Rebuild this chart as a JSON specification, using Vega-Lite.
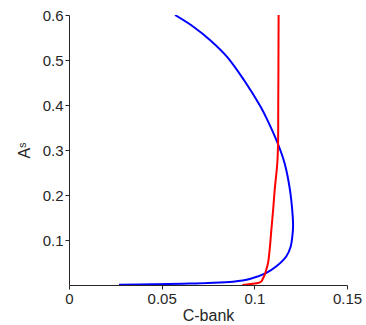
{
  "$schema": "https://vega.github.io/schema/vega-lite/v6.json",
  "width": 278,
  "height": 270,
  "autosize": "none",
  "padding": {"left": 69, "top": 15, "right": 19, "bottom": 40},
  "config": {
    "view": {"stroke": null},
    "axis": {
      "grid": false,
      "ticks": true,
      "domainColor": "#262626",
      "tickColor": "#262626",
      "tickOpacity": 1,
      "labelColor": "#262626",
      "titleColor": "#262626",
      "labelFont": "Liberation Sans",
      "titleFont": "Liberation Sans",
      "labelFontSize": 15,
      "titleFontSize": 16,
      "titleFontWeight": "normal",
      "tickSize": 4,
      "domainWidth": 1,
      "tickWidth": 1,
      "labelFlush": false,
      "labelOverlap": false
    }
  },
  "data": {"values": [
    {"s": "blue", "o": 0, "x": 0.027, "y": 0.0008},
    {"s": "blue", "o": 1, "x": 0.045, "y": 0.0015},
    {"s": "blue", "o": 2, "x": 0.0615, "y": 0.003},
    {"s": "blue", "o": 3, "x": 0.075, "y": 0.0045},
    {"s": "blue", "o": 4, "x": 0.0885, "y": 0.0074},
    {"s": "blue", "o": 5, "x": 0.0975, "y": 0.0133},
    {"s": "blue", "o": 6, "x": 0.1065, "y": 0.027},
    {"s": "blue", "o": 7, "x": 0.1119, "y": 0.0415},
    {"s": "blue", "o": 8, "x": 0.1173, "y": 0.064},
    {"s": "blue", "o": 9, "x": 0.1196, "y": 0.085},
    {"s": "blue", "o": 10, "x": 0.1205, "y": 0.108},
    {"s": "blue", "o": 11, "x": 0.1209, "y": 0.13},
    {"s": "blue", "o": 12, "x": 0.1207, "y": 0.153},
    {"s": "blue", "o": 13, "x": 0.1192, "y": 0.212},
    {"s": "blue", "o": 14, "x": 0.1163, "y": 0.271},
    {"s": "blue", "o": 15, "x": 0.1126, "y": 0.315},
    {"s": "blue", "o": 16, "x": 0.107, "y": 0.367},
    {"s": "blue", "o": 17, "x": 0.1034, "y": 0.396},
    {"s": "blue", "o": 18, "x": 0.0943, "y": 0.456},
    {"s": "blue", "o": 19, "x": 0.0853, "y": 0.507},
    {"s": "blue", "o": 20, "x": 0.0762, "y": 0.544},
    {"s": "blue", "o": 21, "x": 0.0671, "y": 0.574},
    {"s": "blue", "o": 22, "x": 0.0572, "y": 0.6},
    {"s": "red", "o": 0, "x": 0.0935, "y": 0.0},
    {"s": "red", "o": 1, "x": 0.098, "y": 0.002},
    {"s": "red", "o": 2, "x": 0.1025, "y": 0.005},
    {"s": "red", "o": 3, "x": 0.1038, "y": 0.008},
    {"s": "red", "o": 4, "x": 0.1047, "y": 0.015},
    {"s": "red", "o": 5, "x": 0.1056, "y": 0.023},
    {"s": "red", "o": 6, "x": 0.1065, "y": 0.035},
    {"s": "red", "o": 7, "x": 0.1074, "y": 0.049},
    {"s": "red", "o": 8, "x": 0.1083, "y": 0.08},
    {"s": "red", "o": 9, "x": 0.1092, "y": 0.123},
    {"s": "red", "o": 10, "x": 0.1102, "y": 0.17},
    {"s": "red", "o": 11, "x": 0.111, "y": 0.212},
    {"s": "red", "o": 12, "x": 0.1124, "y": 0.271},
    {"s": "red", "o": 13, "x": 0.1128, "y": 0.315},
    {"s": "red", "o": 14, "x": 0.1129, "y": 0.4},
    {"s": "red", "o": 15, "x": 0.113, "y": 0.485},
    {"s": "red", "o": 16, "x": 0.1131, "y": 0.6}
  ]},
  "mark": {"type": "line", "strokeWidth": 2, "interpolate": "catmull-rom", "clip": true},
  "encoding": {
    "x": {"field": "x", "type": "quantitative", "scale": {"domain": [0, 0.15], "nice": false},
      "axis": {"title": "C-bank", "values": [0, 0.05, 0.1, 0.15], "labelExpr": "'' + datum.value", "labelPadding": 2, "titlePadding": 1,
        "encode": {"ticks": {"update": {"y2": {"value": -4}}}}}},
    "y": {"field": "y", "type": "quantitative", "scale": {"domain": [0, 0.6], "nice": false},
      "axis": {"title": "Aˢ", "values": [0.1, 0.2, 0.3, 0.4, 0.5, 0.6], "labelExpr": "'' + datum.value", "labelPadding": 2, "titlePadding": 10,
        "encode": {"ticks": {"update": {"x2": {"value": 4}}}}}},
    "color": {"field": "s", "type": "nominal", "scale": {"domain": ["blue", "red"], "range": ["#0000FF", "#FF0000"]}, "legend": null},
    "order": {"field": "o", "type": "quantitative"}
  }
}
